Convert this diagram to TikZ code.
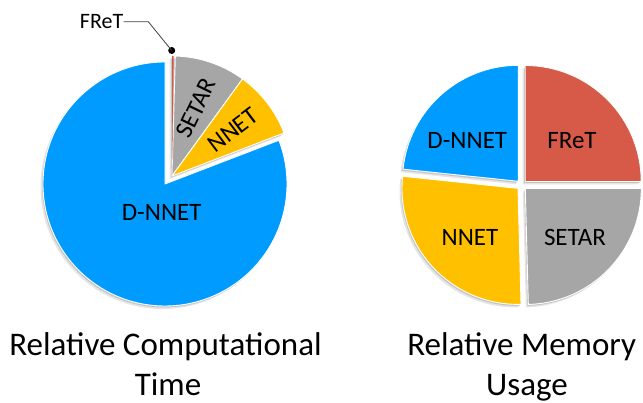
\documentclass[tikz,border=0pt]{standalone}
\usepackage{fontspec}
\setmainfont{Carlito}
\definecolor{pblue}{RGB}{0,155,255}
\definecolor{pred}{RGB}{214,90,71}
\definecolor{pgray}{RGB}{166,166,166}
\definecolor{pyellow}{RGB}{255,192,0}
\newcommand\pieWedge[6]{\path[#6] (#1,#2) -- ++(#3:#5) arc[start angle=#3,end angle=#4,radius=#5] -- cycle;}
\begin{document}
\begin{tikzpicture}[x=1pt,y=1pt,
  slice/.style={draw=white,line width=0.9pt,line join=round},
  shade1/.style={fill=black,opacity=0.10,shift={(-2.5,-3)}},
  shade2/.style={fill=black,opacity=0.15,shift={(-1,-1.5)}},
  lbl/.style={font=\fontsize{25}{30}\selectfont,inner sep=0},
  ttl/.style={font=\fontsize{33}{40}\selectfont,inner sep=0,anchor=base}]
\useasboundingbox (0,0) rectangle (643,403);
% ---------- left pie ----------
\foreach \s in {shade1,shade2}{
  \pieWedge{165}{219}{90}{381}{122}{\s}
  \pieWedge{172}{227}{21}{90}{120}{\s}
}
\pieWedge{165}{219}{90}{381}{122}{slice,fill=pblue}
\pieWedge{172}{227}{54}{88.4}{120}{slice,fill=pgray}
\pieWedge{172}{227}{21}{54}{120}{slice,fill=pyellow}
\pieWedge{172}{227}{89.2}{90}{120}{fill=pred}
\node[lbl] (ldnnet) at (161.7,191) {D-NNET};
\node[lbl,rotate=64] (lsetar) at (196,295) {SETAR};
\node[lbl,rotate=37] (lnnet) at (233,273) {NNET};
% FReT callout
\node[font=\fontsize{22}{26}\selectfont,inner sep=0,anchor=east] (lfret) at (123.5,381.3) {FReT};
\coordinate (bend) at (148.3,381.3);
\node[circle,fill=black,inner sep=0,minimum size=7pt] (dot) at (171.7,352.5) {};
\draw[black!75,line width=0.8pt] (lfret.east) -- (bend) -- (dot.center);
% ---------- right pie ----------
\foreach \s in {shade1,shade2}{
  \pieWedge{525.2}{221.5}{0}{90}{116}{\s}
  \pieWedge{518.4}{221.7}{90}{174}{116}{\s}
  \pieWedge{518.0}{214.6}{174}{271.5}{116}{\s}
  \pieWedge{525.3}{214.5}{271.5}{360}{116}{\s}
}
\pieWedge{525.2}{221.5}{0}{90}{116}{slice,fill=pred}
\pieWedge{518.4}{221.7}{90}{174}{116}{slice,fill=pblue}
\pieWedge{518.0}{214.6}{174}{271.5}{116}{slice,fill=pyellow}
\pieWedge{525.3}{214.5}{271.5}{360}{116}{slice,fill=pgray}
\node[lbl] (rdnnet) at (467.3,262.3) {D-NNET};
\node[lbl] (rfret) at (572,262.3) {FReT};
\node[lbl] (rnnet) at (470,165.7) {NNET};
\node[lbl] (rsetar) at (575,165.7) {SETAR};
% ---------- titles ----------
\node[ttl] (t1a) at (165.5,47) {Relative Computational};
\node[ttl] (t1b) at (168,7) {Time};
\node[ttl] (t2a) at (521.7,47) {Relative Memory};
\node[ttl] (t2b) at (527,7) {Usage};
\end{tikzpicture}
\end{document}
